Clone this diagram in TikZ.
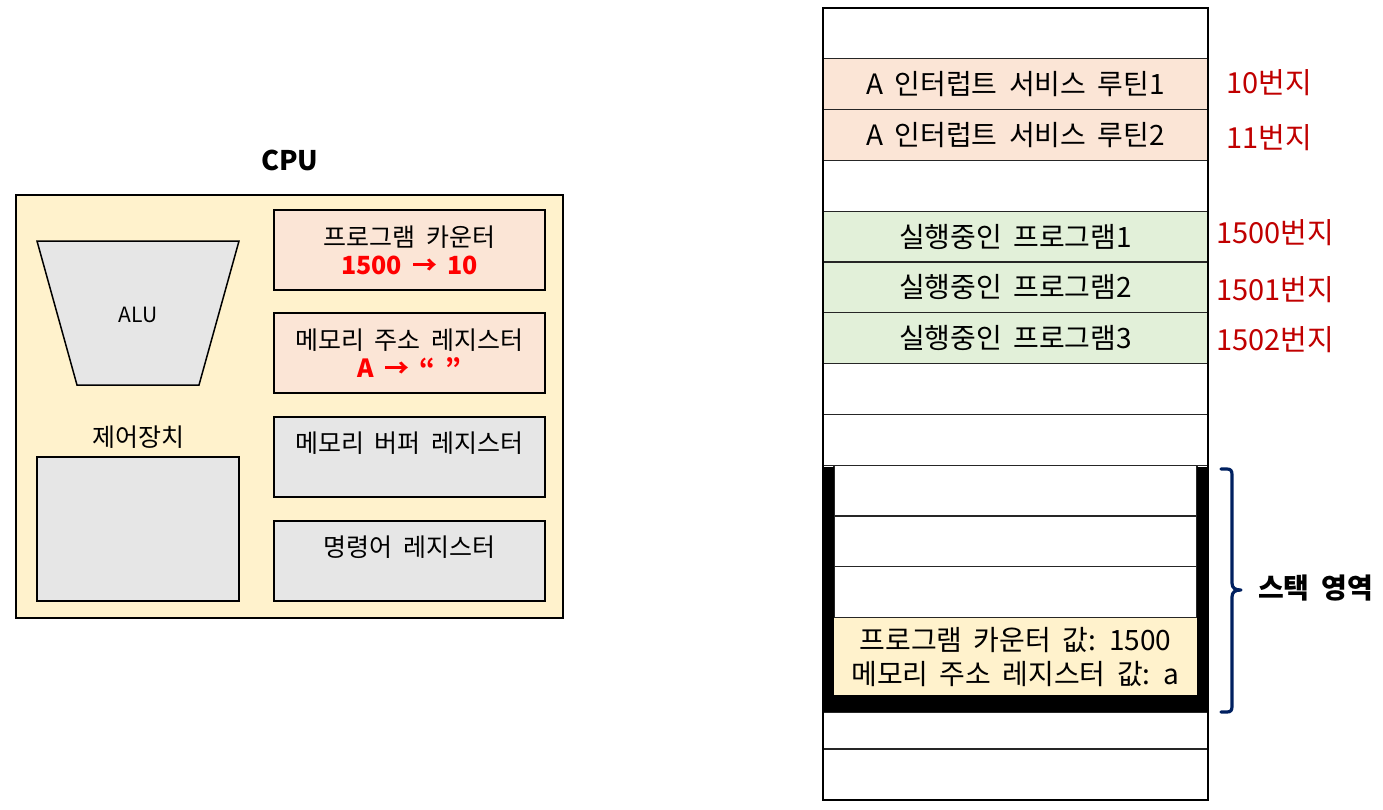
\documentclass[tikz,border=0pt]{standalone}
\usepackage{fontspec}
\setmainfont{Noto Sans CJK KR}[WordSpace=1.8]
\definecolor{cpuyellow}{HTML}{FFF2CC}
\definecolor{peach}{HTML}{FBE5D6}
\definecolor{lgray}{HTML}{E6E6E6}
\definecolor{lgreen}{HTML}{E2F0D9}
\definecolor{addrred}{HTML}{C00000}
\definecolor{navy}{HTML}{002060}
\tikzset{
  box/.style={draw=black, line width=2pt, inner sep=0pt, outer sep=0pt, anchor=north west},
  cell/.style={draw=black!85, line width=1.3pt, inner sep=0pt, outer sep=0pt, anchor=north west,
     minimum height=50.8pt, font=\fontsize{28}{32}\selectfont},
  cputxt/.style={font=\fontsize{25}{28}\selectfont, align=center, inner sep=0pt},
  addr/.style={text=addrred, font=\fontsize{29}{32}\selectfont, inner sep=0pt},
}
\begin{document}
\begin{tikzpicture}[x=1pt,y=-1pt]
\useasboundingbox (0,0) rectangle (1383,809);
% ---------------- CPU ----------------
\node[font=\bfseries\fontsize{27}{30}\selectfont, inner sep=0pt] (cputitle) at (290,160) {CPU};
\node[box, fill=cpuyellow, minimum width=547pt, minimum height=423pt] (cpu) at (16,195) {};
\draw[line width=1.5pt, fill=lgray] (37,241) -- (239,241) -- (199,385) -- (77,385) -- cycle;
\node[font=\fontsize{21}{24}\selectfont, inner sep=0pt] (alu) at (138,315) {ALU};
\node[cputxt] (ctrllabel) at (138,437) {제어장치};
\node[box, fill=lgray, minimum width=202pt, minimum height=144pt] (ctrl) at (37,457) {};
\node[box, fill=peach, minimum width=271pt, minimum height=80pt] (pc) at (274,210) {};
\node[cputxt] (pctxt) at (409.5,250.5) {프로그램 카운터\\{\color{red}\bfseries 1500 → 10}};
\node[box, fill=peach, minimum width=271pt, minimum height=80pt] (mar) at (274,313) {};
\node[cputxt] (martxt) at (409.5,353.5) {메모리 주소 레지스터\\{\color{red}\bfseries A → “ ”}};
\node[box, fill=lgray, minimum width=271pt, minimum height=80pt] (mbr) at (274,417) {};
\node[cputxt] (mbrtxt) at (409.5,443) {메모리 버퍼 레지스터};
\node[box, fill=lgray, minimum width=271pt, minimum height=80pt] (ir) at (274,521) {};
\node[cputxt] (irtxt) at (409.5,547) {명령어 레지스터};
% ---------------- Memory ----------------
\node[cell, fill=white, minimum width=385pt] (m0) at (823,8.0) {};
\node[cell, fill=peach, minimum width=385pt] (m1) at (823,58.8) {A 인터럽트 서비스 루틴1};
\node[cell, fill=peach, minimum width=385pt] (m2) at (823,109.6) {A 인터럽트 서비스 루틴2};
\node[cell, fill=white, minimum width=385pt] (m3) at (823,160.4) {};
\node[cell, fill=lgreen, minimum width=385pt] (m4) at (823,211.2) {실행중인 프로그램1};
\node[cell, fill=lgreen, minimum width=385pt] (m5) at (823,262.0) {실행중인 프로그램2};
\node[cell, fill=lgreen, minimum width=385pt] (m6) at (823,312.8) {실행중인 프로그램3};
\node[cell, fill=white, minimum width=385pt] (m7) at (823,363.6) {};
\node[cell, fill=white, minimum width=385pt] (m8) at (823,414.4) {};
\node[cell, fill=white, minimum width=363pt] (s1) at (834,465.2) {};
\node[cell, fill=white, minimum width=363pt] (s2) at (834,516.0) {};
\node[cell, fill=white, minimum width=363pt] (s3) at (834,566.8) {};
\node[cell, fill=cpuyellow, draw=none, minimum width=363pt, minimum height=78pt, align=center,
      font=\fontsize{28}{34}\selectfont] (s4) at (834,617.6) {프로그램 카운터 값: 1500\\메모리 주소 레지스터 값: a};
\draw[black!85, line width=1.3pt] (834,617.6) -- (1197,617.6);
\node[cell, fill=white, minimum width=385pt, minimum height=37pt] (m13) at (823,712) {};
\node[cell, fill=white, minimum width=385pt, minimum height=51pt] (m14) at (823,749) {};
\draw[line width=2pt] (823,8) rectangle (1208,800);
% stack walls
\fill[black] (823,467) rectangle (834,712);
\fill[black] (1197,467) rectangle (1208,712);
\fill[black] (823,695) rectangle (1208,712);
% addresses
\node[addr] (a10) at (1269.5,83) {10번지};
\node[addr] (a11) at (1269,138) {11번지};
\node[addr] (a1500) at (1275,233) {1500번지};
\node[addr] (a1501) at (1275,290) {1501번지};
\node[addr] (a1502) at (1275,340) {1502번지};
% brace
\coordinate (btop) at (1221,469);
\coordinate (btip) at (1241,590);
\coordinate (bbot) at (1221,712);
\draw[navy, line width=3.2pt, line cap=round, line join=round]
  (btop) -- (1227,469) .. controls (1231,469) and (1232,471) .. (1232,475) -- (1232,583)
  .. controls (1232,588) and (1235,590) .. (btip)
  .. controls (1235,590) and (1232,592) .. (1232,597) -- (1232,706)
  .. controls (1232,710) and (1231,712) .. (1227,712) -- (bbot);
\node[font=\bfseries\fontsize{28}{30}\selectfont, inner sep=0pt, anchor=west] (stacklbl) at (1258,588) {스택 영역};
\end{tikzpicture}
\end{document}
